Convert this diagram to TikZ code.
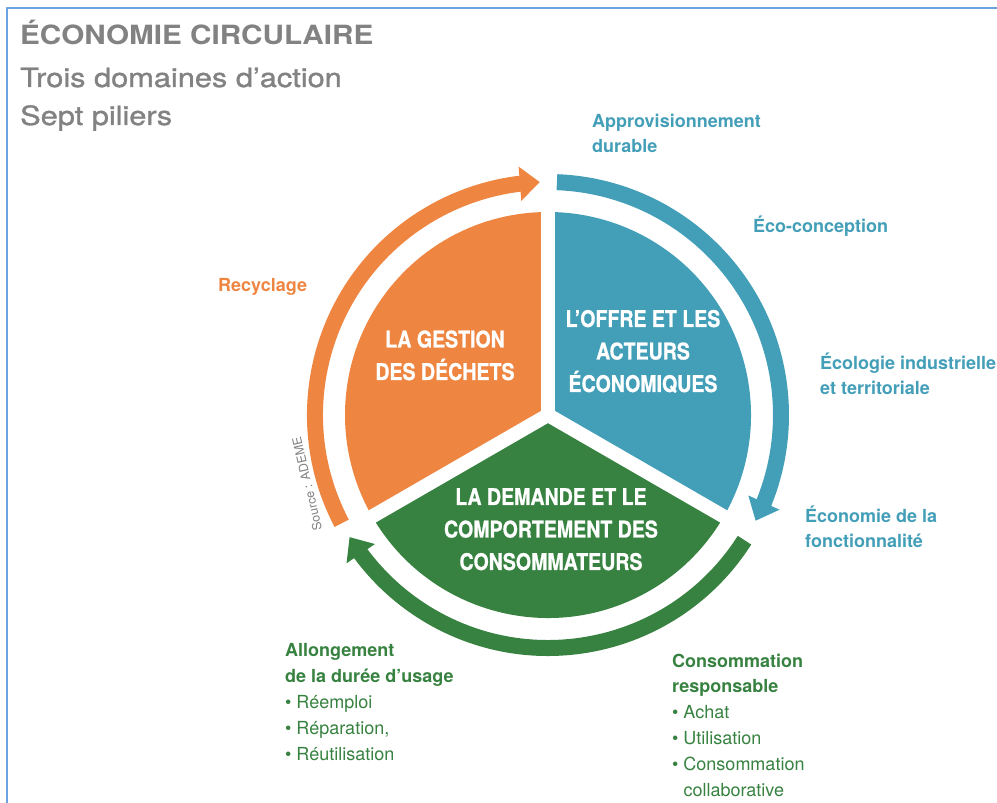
\documentclass[tikz,border=0pt]{standalone}
\usepackage{fontspec}
\setmainfont{TeX Gyre Heros}
\newfontfamily\widefont{TeX Gyre Heros}[FakeStretch=1.12]
\newfontfamily\subfont{TeX Gyre Heros}[FakeStretch=1.16, FakeBold=1.2]
\newfontfamily\piefont{TeX Gyre Heros}[FakeStretch=0.85, FakeBold=0.8]
\usetikzlibrary{arrows.meta,bending}
\definecolor{orangeA}{HTML}{EE8642}
\definecolor{blueA}{HTML}{439EB8}
\definecolor{greenA}{HTML}{378240}
\definecolor{greyA}{HTML}{828282}
\definecolor{frameA}{HTML}{6AA2E2}
\begin{document}
\begin{tikzpicture}[x=1pt, y=1pt, line join=round, inner sep=0pt,
    ring/.style={line width=16pt, line cap=butt, -{Triangle[width=33pt,length=20pt]}},
    head/.style={anchor=base west, text=greyA, font=\subfont\fontsize{26.5}{30}\selectfont},
    pie label/.style={text=white, align=center, anchor=base, font=\piefont\bfseries\fontsize{23}{32.5}\selectfont},
    side label/.style={anchor=base west, align=left, font=\bfseries\fontsize{18}{25}\selectfont},
    list label/.style={anchor=base west, align=left, text=greenA, font=\fontsize{18}{25.8}\selectfont}]
  \useasboundingbox (-548,-388) rectangle (449,415);
  \draw[frameA, line width=2pt] (-541,-388) -- (-541,407) -- (449,407);
  % titre
  \node[head, font=\widefont\bfseries\fontsize{26.5}{30}\selectfont] (titre) at (-528,370) {ÉCONOMIE CIRCULAIRE};
  \node[head] (domaines) at (-528,328) {Trois domaines d’action};
  \node[head] (piliers) at (-528,290) {Sept piliers};
  % les trois domaines
  \fill[orangeA] (0,0) -- (90:203) arc[start angle=90, end angle=210, radius=203] -- cycle;
  \fill[blueA] (0,0) -- (-30:203) arc[start angle=-30, end angle=90, radius=203] -- cycle;
  \fill[greenA] (0,0) -- (210:203) arc[start angle=210, end angle=330, radius=203] -- cycle;
  \foreach \a in {90,210,330}
    \draw[white, line width=14pt] (0,0) -- (\a:212);
  \draw[ring, blueA] (87.8:233) arc[start angle=87.8, end angle=-27, radius=233];
  \draw[ring, greenA] (-32.5:233) arc[start angle=-32.5, end angle=-148.4, radius=233];
  \draw[ring, orangeA] (-152.3:233) arc[start angle=-152.3, end angle=-268, radius=233];
  \node[pie label] (gestion) at (-103,35) {LA GESTION\\DES DÉCHETS};
  \node[pie label] (offre) at (95,23) {L’OFFRE ET LES\\ACTEURS\\ÉCONOMIQUES};
  \node[pie label] (demande) at (3,-155) {LA DEMANDE ET LE\\COMPORTEMENT DES\\CONSOMMATEURS};
  % les sept piliers
  \node[side label, text=blueA] (appro) at (44,262) {Approvisionnement\\durable};
  \node[side label, text=blueA] (ecoconception) at (205,182) {Éco-conception};
  \node[side label, text=blueA] (ecologie) at (272,20) {Écologie industrielle\\et territoriale};
  \node[side label, text=blueA] (fonctionnalite) at (257,-133) {Économie de la\\fonctionnalité};
  \node[side label, text=orangeA] (recyclage) at (-330,123) {Recyclage};
  \node[list label] (allongement) at (-263,-345) {\textbf{Allongement}\\\textbf{de la durée d’usage}\\\textbullet\ Réemploi\\\textbullet\ Réparation,\\\textbullet\ Réutilisation};
  \node[list label] (consommation) at (124,-381) {\textbf{Consommation}\\\textbf{responsable}\\\textbullet\ Achat\\\textbullet\ Utilisation\\\textbullet\ Consommation\\\hphantom{\textbullet\ }collaborative};
  \node[text=greyA, font=\fontsize{12.5}{14}\selectfont, rotate=103] (source) at (-241,-69) {Source : ADEME};
\end{tikzpicture}
\end{document}
